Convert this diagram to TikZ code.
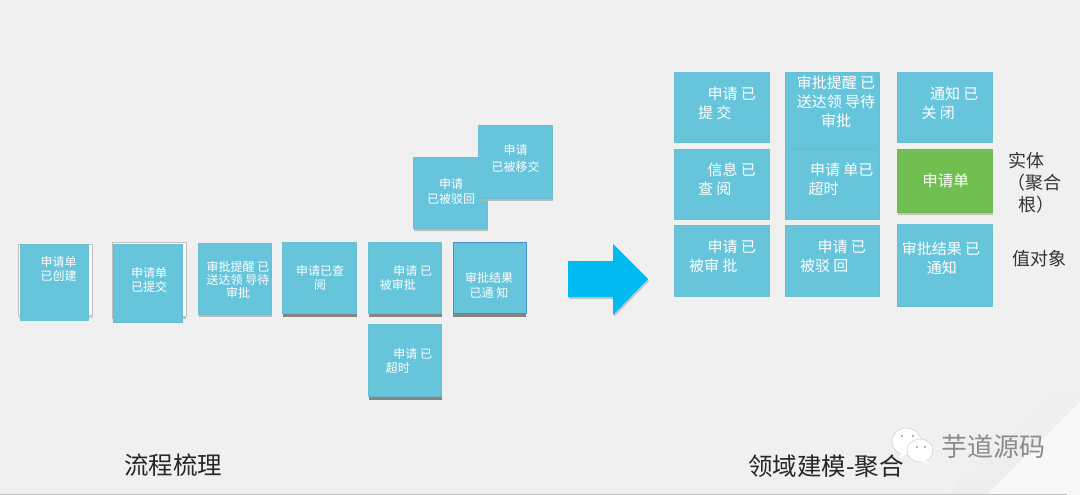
\documentclass[tikz,border=0pt]{standalone}
\usepackage{fontspec}
\setmainfont{Noto Sans CJK SC}
\usetikzlibrary{shadows}
\definecolor{cardblue}{HTML}{66C5DB}
\definecolor{cardgreen}{HTML}{70BF50}
\definecolor{arrowblue}{HTML}{00BAF2}
\definecolor{pagegray}{HTML}{F0F0F0}
\definecolor{cardedge}{HTML}{4A8FD0}
\tikzset{
  card/.style={draw=cardblue!90!gray,line width=0.7pt,fill=cardblue,inner sep=0pt,anchor=north west},
  deepcard/.style={card,drop shadow={shadow xshift=0.5pt,shadow yshift=-4pt,fill=black!55,opacity=0.85}},
  softcard/.style={card,drop shadow={shadow xshift=0.5pt,shadow yshift=-3pt,fill=black!30,opacity=0.85}},
  backcard/.style={draw=black!25,line width=0.7pt,fill=white,inner sep=0pt,anchor=north west},
  cardtext/.style={text=white,align=left,inner sep=0pt,font=\fontsize{12}{14}\selectfont},
  gridtext/.style={text=white,align=left,inner sep=0pt,font=\fontsize{15}{19}\selectfont},
  caption/.style={text=black!85,inner sep=0pt,font=\fontsize{24.5}{28}\selectfont},
  sidetext/.style={text=black!80,align=left,inner sep=0pt,font=\fontsize{18}{22}\selectfont},
}
\begin{document}
\begin{tikzpicture}[x=1pt,y=-1pt,line join=round]
\useasboundingbox (0,0) rectangle (1080,495);
% --- page
\fill[pagegray] (0,0) rectangle (1080,495);
\shade[top color=pagegray,bottom color=black!7] (947,495) -- (1080,369) -- (1080,402) -- (987,495) -- cycle;
\fill[white!55!pagegray] (987,495) -- (1080,402) -- (1080,495) -- cycle;
\draw[black!25] (0,494.5) -- (1067,494.5);
% --- left: process
\node[backcard,minimum width=74pt,minimum height=71pt,drop shadow={shadow xshift=0.5pt,shadow yshift=-3pt,fill=black!30}] (createdback) at (18,244) {};
\node[card,minimum width=68pt,minimum height=76pt] (created) at (20,244) {};
\node[cardtext] (createdtext) at (58.5,268.5) {申请单\\已创建};
\node[backcard,minimum width=74pt,minimum height=74pt,drop shadow={shadow xshift=0.5pt,shadow yshift=-3pt,fill=black!45}] (submittedback) at (111.5,242) {};
\node[card,minimum width=69pt,minimum height=78pt] (submitted) at (113,244) {};
\node[cardtext] (submittedtext) at (149,279.5) {申请单\\已提交};
\node[softcard,minimum width=73pt,minimum height=71pt] (reminded) at (198,243) {};
\node[cardtext,align=center,font=\fontsize{12}{13}\selectfont] (remindedtext) at (238,280) {审批提醒 已\\送达领 导待\\审批};
\node[deepcard,minimum width=74pt,minimum height=71pt] (viewed) at (282,242) {};
\node[cardtext,align=center] (viewedtext) at (320,278) {申请已查\\阅};
\node[deepcard,minimum width=73pt,minimum height=71pt] (approved) at (368,242) {};
\node[cardtext] (approvedtext) at (406,278) {\hspace*{13.5pt}申请 已\\被审批};
\node[deepcard,minimum width=73pt,minimum height=71pt,draw=cardedge] (notified) at (452.5,242) {};
\node[cardtext,align=center,font=\fontsize{12}{15}\selectfont] (notifiedtext) at (489,285.5) {审批结果\\已通 知};
\node[deepcard,minimum width=73pt,minimum height=72pt] (timeout) at (368,324) {};
\node[cardtext] (timeouttext) at (409,360.5) {\hspace*{7.5pt}申请 已\\超时};
\node[softcard,minimum width=74pt,minimum height=71pt] (rejected) at (413,157) {};
\node[cardtext,align=center,font=\fontsize{12}{15}\selectfont] (rejectedtext) at (451,191.5) {申请\\已被驳回};
\node[softcard,minimum width=74pt,minimum height=73pt] (moved) at (478,125) {};
\node[cardtext,align=center,font=\fontsize{12}{17}\selectfont] (movedtext) at (515.5,158.5) {申请\\已被移交};
% --- arrow
\fill[arrowblue,drop shadow={shadow xshift=1pt,shadow yshift=-2pt,fill=black!40}]
  (568,261) -- (613,261) -- (613,244) -- (648,279) -- (613,315) -- (613,297) -- (568,297) -- cycle;
% --- right: aggregate
\node[card,minimum width=95pt,minimum height=70pt] (submit) at (674,72) {};
\node[gridtext] (submittext) at (727,103) {\hspace*{9.5pt}申请 已\\提 交};
\node[card,minimum width=94pt,minimum height=76pt] (remind) at (785,72) {};
\node[gridtext,align=center] (remindtext) at (836,102) {审批提醒 已\\送达领 导待\\审批};
\node[card,minimum width=95pt,minimum height=70pt] (close) at (897,72) {};
\node[gridtext] (closetext) at (950,103) {\hspace*{8.5pt}通知 已\\关 闭};
\node[card,minimum width=95pt,minimum height=70pt] (view) at (674,149) {};
\node[gridtext] (viewtext) at (727,179) {\hspace*{9.5pt}信息 已\\查 阅};
\node[card,minimum width=94pt,minimum height=70pt] (overdue) at (785,149) {};
\node[gridtext] (overduetext) at (841,179) {\hspace*{1.5pt}申请 单已\\超时};
\node[card,minimum width=95pt,minimum height=63pt,fill=cardgreen,draw=cardgreen!90!gray,drop shadow={shadow xshift=0.5pt,shadow yshift=-3pt,fill=black!40}] (form) at (897,149) {};
\node[gridtext,font=\fontsize{15.5}{19}\selectfont] (formtext) at (945.5,181) {申请单};
\node[card,minimum width=95pt,minimum height=71pt] (approve) at (674,225) {};
\node[gridtext] (approvetext) at (722.5,256) {\hspace*{18.5pt}申请 已\\被审 批};
\node[card,minimum width=94pt,minimum height=71pt] (reject) at (785,225) {};
\node[gridtext] (rejecttext) at (833,256) {\hspace*{17.5pt}申请 已\\被驳 回};
\node[card,minimum width=95pt,minimum height=82pt] (result) at (897,224) {};
\node[gridtext] (resulttext) at (941,258) {审批结果 已\\\hspace*{25pt}通知};
\node[sidetext,anchor=west] (entity) at (1008.5,183) {实体\\\hspace*{-1pt}（聚合\\\hspace*{10pt}根）};
\node[sidetext] (valueobj) at (1039,259) {值对象};
% --- captions
\node[caption] (flow) at (173,465) {流程梳理};
\node[caption] (model) at (826,466) {领域建模-聚合};
% --- watermark
\fill[white,draw=black!20,line width=0.5pt] (906.5,441.5) ellipse (14.5pt and 13.5pt);
\fill[white] (901,453) -- (899,459) -- (908,453) -- cycle;
\fill[white,draw=black!20,line width=0.5pt] (920,450.5) ellipse (13pt and 11.5pt);
\fill[white] (925,460) -- (930,464) -- (918,460) -- cycle;
\foreach \x/\y in {902/436,913/436,917/447,925/447} {\fill[black!40] (\x,\y) circle (1.1pt);}
\node[text=black!45,inner sep=0pt,font=\fontsize{26}{30}\selectfont] (mark) at (993,447) {芋道源码};
\end{tikzpicture}
\end{document}
